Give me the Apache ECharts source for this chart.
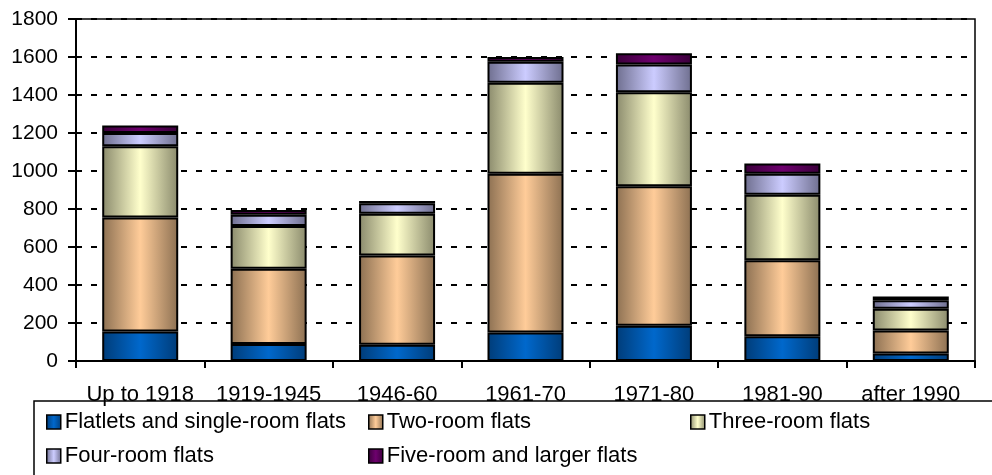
<!DOCTYPE html>
<html>
<head>
<meta charset="utf-8">
<script src="https://cdn.jsdelivr.net/npm/echarts@6/dist/echarts.min.js"></script>
<style>
html,body{margin:0;padding:0;background:#fff;}
#c{width:992px;height:475px;}
</style>
</head>
<body>
<div id="c"></div>
<script>
const categories = ['Up to 1918','1919-1945','1946-60','1961-70','1971-80','1981-90','after 1990'];
const seriesNames = ['Flatlets and single-room flats','Two-room flats','Three-room flats','Four-room flats','Five-room and larger flats'];
const flatlets  = [155, 90, 85, 150, 185, 130, 40];
const twoRoom   = [600, 395, 470, 835, 735, 400, 120];
const threeRoom = [375, 225, 220, 480, 495, 345, 115];
const fourRoom  = [70, 60, 55, 110, 145, 110, 45];
const fiveRoom  = [40, 25, 12, 25, 60, 55, 20];
const yTicks = [0,200,400,600,800,1000,1200,1400,1600,1800];

const seriesData = [flatlets, twoRoom, threeRoom, fourRoom, fiveRoom];
const palette = [
  ['#003C78','#0068CC'],
  ['#8C7052','#FFCC99'],
  ['#8A8A6C','#FFFFCC'],
  ['#6E6E8E','#CCCCFF'],
  ['#3A003A','#6E006E']
];
function grad(p){
  return new echarts.graphic.LinearGradient(0,0,1,0,[
    {offset:0,color:p[0]},{offset:0.5,color:p[1]},{offset:1,color:p[0]}
  ]);
}
const FONT = '"Liberation Sans", Arial, sans-serif';
const chart = echarts.init(document.getElementById('c'), null, {renderer:'canvas'});

const legendPos = [
  {left:41, top:406},
  {left:363, top:406},
  {left:685, top:406},
  {left:41, top:440},
  {left:363, top:440}
];

const option = {
  animation:false,
  backgroundColor:'#fff',
  grid:{left:76, right:17, top:19, bottom:114, show:true, borderColor:'#000', borderWidth:1.5, containLabel:false},
  legend: seriesNames.map((n,i)=>({
    data:[n], left:legendPos[i].left, top:legendPos[i].top,
    itemWidth:14, itemHeight:14, itemGap:6, icon:'rect',
    itemStyle:{borderColor:'#000', borderWidth:1.5},
    textStyle:{fontFamily:FONT, fontSize:22, color:'#000', padding:[0,0,0,-1]},
    selectedMode:false
  })),
  xAxis:{
    type:'category', data:categories,
    axisLine:{show:true, lineStyle:{color:'#000', width:2}},
    axisTick:{show:true, length:7, lineStyle:{color:'#000', width:2}},
    axisLabel:{fontFamily:FONT, fontSize:22, color:'#000', margin:23, interval:0}
  },
  yAxis:{
    type:'value', min:yTicks[0], max:yTicks[yTicks.length-1], interval:yTicks[1]-yTicks[0],
    axisLine:{show:true, lineStyle:{color:'#000', width:2}},
    axisTick:{show:true, length:8, lineStyle:{color:'#000', width:2}},
    axisLabel:{fontFamily:FONT, fontSize:21, color:'#000', margin:18, formatter:function(v){return String(v);}},
    splitLine:{show:true, lineStyle:{color:'#000', width:2, type:[6,9]}}
  },
  graphic:[{
    type:'rect', z:100, silent:true,
    shape:{x:34, y:401, width:1000, height:100},
    style:{fill:null, stroke:'#000', lineWidth:1.5}
  }],
  series: seriesNames.map((n,i)=>({
    name:n, type:'bar', stack:'total', data:seriesData[i],
    barWidth:76,
    itemStyle:{color:grad(palette[i]), borderColor:'#000', borderWidth:2},
    emphasis:{disabled:true}
  }))
};
chart.setOption(option);
</script>
</body>
</html>
